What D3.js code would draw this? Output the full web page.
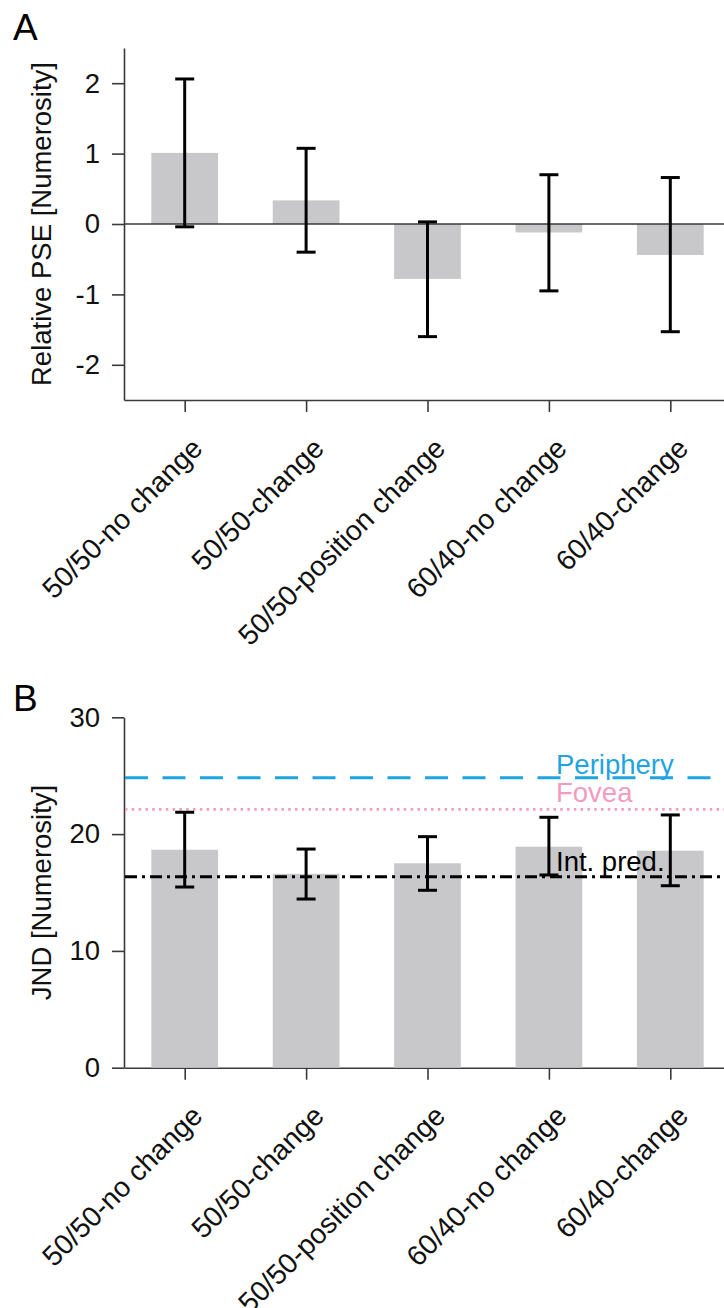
<!DOCTYPE html>
<html>
<head>
<meta charset="utf-8">
<script src="https://cdn.jsdelivr.net/npm/d3@7"></script>
<style>
  body { margin: 0; background: #fff; }
  svg { display: block; font-family: "Liberation Sans", Arial, sans-serif; }
</style>
</head>
<body>
<svg id="fig" width="724" height="1308"></svg>
<script>
// data
var categories = ["50/50-no change", "50/50-change", "50/50-position change", "60/40-no change", "60/40-change"];
var pseMean = [1.01, 0.335, -0.78, -0.12, -0.44];
var pseLow  = [-0.04, -0.40, -1.60, -0.95, -1.53];
var pseHigh = [2.06, 1.075, 0.03, 0.70, 0.66];
var jndMean = [18.66, 16.6, 17.5, 18.92, 18.58];
var jndLow  = [15.47, 14.44, 15.19, 16.5, 15.58];
var jndHigh = [21.87, 18.72, 19.78, 21.44, 21.64];
var refNames  = ["Periphery", "Fovea", "Int. pred."];
var refValues = [24.83, 22.12, 16.35];
var pseTicks = [-2, -1, 0, 1, 2];
var jndTicks = [0, 10, 20, 30];

var svg = d3.select("#fig");
var axisColor = "#3a3a3a", barColor = "#c8c8ca";
var fs = 27.5;

var x = d3.scaleLinear().domain([0.5, 5.5]).range([124, 731]);
var barW = x(1.55) - x(1);

function rows(mean, low, high) {
  return categories.map(function(c, i) { return {i: i + 1, name: c, v: mean[i], lo: low[i], hi: high[i]}; });
}

function styleAxis(g) {
  g.attr("font-family", null).attr("font-size", null);
  g.selectAll("path, line").attr("stroke", axisColor).attr("stroke-width", 1.6);
  g.selectAll("text").attr("fill", "#111").style("font-size", fs + "px");
}

function panel(opt) {
  var y = d3.scaleLinear().domain(opt.domain).range(opt.range);
  var g = svg.append("g");
  var data = rows(opt.mean, opt.low, opt.high);

  // y axis
  g.append("g")
      .attr("transform", "translate(" + x(0.5) + ",0)")
      .call(d3.axisLeft(y).tickValues(opt.ticks).tickSize(12).tickSizeOuter(0).tickPadding(12)
        .tickFormat(function(d) { return String(d); }))
      .call(styleAxis);

  // x axis, labels tilted 45 degrees
  var xa = g.append("g")
      .attr("transform", "translate(0," + opt.range[0] + ")")
      .call(d3.axisBottom(x).tickValues([1, 2, 3, 4, 5]).tickSize(12).tickSizeOuter(0)
        .tickFormat(function(d) { return categories[d - 1]; }))
      .call(styleAxis);
  xa.selectAll("text")
      .attr("x", 0).attr("y", 0).attr("dy", 0)
      .style("font-size", "28.3px")
      .attr("text-anchor", "end")
      .attr("transform", "translate(19,50) rotate(-45)");

  g.selectAll(".bar")
      .data(data)
      .enter()
    .append("rect")
      .attr("class", "bar")
      .attr("x", function(d) { return x(d.i) - barW / 2; })
      .attr("width", barW)
      .attr("y", function(d) { return y(Math.max(0, d.v)); })
      .attr("height", function(d) { return Math.abs(y(d.v) - y(0)); })
      .attr("fill", barColor);

  // zero line
  if (opt.zero) {
    g.append("line")
        .attr("x1", x(0.5)).attr("x2", x(5.5))
        .attr("y1", y(0)).attr("y2", y(0))
        .attr("stroke", axisColor).attr("stroke-width", 1.6);
  }

  if (opt.after) opt.after(g, y);

  // error bars
  var eb = g.selectAll(".err").data(data).enter().append("g")
      .attr("class", "err").attr("stroke", "#000").attr("stroke-width", 3);
  eb.append("line")
      .attr("x1", function(d) { return x(d.i); }).attr("x2", function(d) { return x(d.i); })
      .attr("y1", function(d) { return y(d.lo); }).attr("y2", function(d) { return y(d.hi); });
  ["lo", "hi"].forEach(function(k) {
    eb.append("line")
        .attr("x1", function(d) { return x(d.i) - 9.5; }).attr("x2", function(d) { return x(d.i) + 9.5; })
        .attr("y1", function(d) { return y(d[k]); }).attr("y2", function(d) { return y(d[k]); });
  });

  // y label
  g.append("text")
      .attr("transform", "translate(" + opt.labelX + "," + (opt.range[0] + opt.range[1]) / 2 + ") rotate(-90)")
      .attr("text-anchor", "middle")
      .style("font-size", fs + "px")
      .attr("fill", "#111")
      .text(opt.label);

  // panel letter
  svg.append("text")
      .attr("x", 13).attr("y", opt.letterY)
      .style("font-size", "37px")
      .attr("fill", "#000")
      .text(opt.letter);
}

panel({
  domain: [-2.5, 2.5], range: [400, 48], ticks: pseTicks,
  mean: pseMean, low: pseLow, high: pseHigh, zero: true,
  label: "Relative PSE [Numerosity]", labelX: 51, letter: "A", letterY: 40
});

var refColors = ["#1ea4e0", "#f59ac1", "#000"];
var refDash = ["23,14.5", "2.5,4.3", "12,5,3,5"];
var refWidth = [3, 2.6, 3];
var refTextY = [-4, -7, -6];

panel({
  domain: [0, 30], range: [1067.7, 717.3], ticks: jndTicks,
  mean: jndMean, low: jndLow, high: jndHigh, zero: false,
  label: "JND [Numerosity]", labelX: 51, letter: "B", letterY: 711,
  after: function(g, y) {
    refValues.forEach(function(v, i) {
      g.append("line")
          .attr("x1", x(0.5) + 1).attr("x2", x(5.5))
          .attr("y1", y(v)).attr("y2", y(v))
          .attr("stroke", refColors[i]).attr("stroke-width", refWidth[i])
          .attr("stroke-dasharray", refDash[i]);
      g.append("text")
          .attr("x", 556).attr("y", y(v) + refTextY[i])
          .style("font-size", fs + "px")
          .attr("fill", refColors[i])
          .text(refNames[i]);
    });
  }
});
</script>
</body>
</html>
